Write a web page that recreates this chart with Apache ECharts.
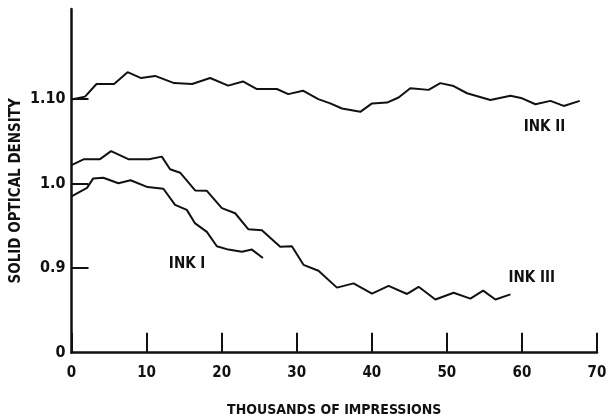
<!DOCTYPE html>
<html>
<head>
<meta charset="utf-8">
<script src="https://cdn.jsdelivr.net/npm/echarts@6/dist/echarts.min.js"></script>
<style>
  html, body { margin: 0; padding: 0; background: #fff; }
  #chart { width: 606px; height: 417px; }
</style>
</head>
<body>
<div id="chart"></div>
<script>
// Solid optical density vs. thousands of impressions, three inks.
// Each point: [thousands of impressions, solid optical density]
const inkI = [
  [0, 0.985], [2.07, 0.995], [2.87, 1.006], [4.24, 1.007], [6.24, 1.0005],
  [7.87, 1.004], [10.13, 0.996], [12.24, 0.994], [13.8, 0.975], [15.36, 0.969],
  [16.47, 0.953], [18.03, 0.943], [19.36, 0.926], [20.9, 0.922], [22.7, 0.9195],
  [24.03, 0.922], [25.5, 0.912]
];
const inkII = [
  [0, 1.0995], [1.8, 1.103], [3.33, 1.118], [5.67, 1.118], [7.47, 1.132],
  [9.27, 1.125], [11.13, 1.1275], [13.67, 1.119], [16.07, 1.118], [18.47, 1.125],
  [20.87, 1.116], [22.83, 1.121], [24.7, 1.112], [27.36, 1.112], [28.87, 1.106],
  [30.83, 1.110], [32.87, 1.100], [34.47, 1.095], [36.03, 1.089], [38.47, 1.085],
  [40.03, 1.095], [42.03, 1.096], [43.57, 1.102], [45.13, 1.113], [47.57, 1.111],
  [49.13, 1.119], [50.9, 1.1155], [52.69, 1.107], [55.8, 1.099], [58.47, 1.104],
  [60.03, 1.101], [61.8, 1.094], [63.8, 1.098], [65.57, 1.092], [67.7, 1.098]
];
const inkIII = [
  [0, 1.022], [1.67, 1.029], [3.8, 1.029], [5.27, 1.0385], [7.57, 1.029],
  [10.33, 1.029], [12.03, 1.032], [13.13, 1.017], [14.47, 1.013], [16.47, 0.992],
  [18.03, 0.9915], [20.03, 0.971], [21.8, 0.965], [23.57, 0.946], [25.36, 0.945],
  [27.8, 0.9255], [29.36, 0.926], [30.9, 0.904], [32.9, 0.897], [35.36, 0.877],
  [37.57, 0.882], [40.03, 0.870], [42.24, 0.879], [44.7, 0.8695], [46.24, 0.878],
  [48.47, 0.863], [50.9, 0.871], [53.13, 0.864], [54.83, 0.8735], [56.47, 0.863],
  [58.47, 0.869]
];

// Broken density axis: the bottom of the scale is labelled 0
const yLabelValues = [0.8, 0.9, 1.0, 1.1];
const yLabelTexts = ['0', '0.9', '1.0', '1.10'];
const yTickValues = [0.9, 1.0, 1.1];

// Ink names, placed in data space
const inkNames = ['INK I', 'INK II', 'INK III'];
const inkNameAt = [[15.4, 0.905], [63, 1.067], [61.3, 0.888]];

const FONT = '"DejaVu Sans Condensed", "Liberation Sans Narrow", "DejaVu Sans", sans-serif';
const INK = '#111';

function inkSeries(name, data, labelIdx) {
  return {
    name: name,
    type: 'line',
    data: data,
    showSymbol: false,
    symbol: 'none',
    smooth: false,
    silent: true,
    lineStyle: { color: INK, width: 2 },
    markPoint: {
      symbol: 'circle',
      symbolSize: 0,
      silent: true,
      data: [{
        coord: inkNameAt[labelIdx],
        label: {
          show: true,
          formatter: inkNames[labelIdx],
          position: 'inside',
          color: INK,
          fontFamily: FONT,
          fontWeight: 'bold',
          fontSize: 15
        }
      }]
    }
  };
}

const chart = echarts.init(document.getElementById('chart'), null, { renderer: 'canvas' });
chart.setOption({
  backgroundColor: '#fff',
  animation: false,
  grid: {
    left: 71.5, right: 9, top: 9, bottom: 64.3,
    containLabel: false,
    outerBoundsMode: 'none'
  },
  xAxis: {
    type: 'value',
    min: 0, max: 70, interval: 10,
    name: 'THOUSANDS OF IMPRESSIONS',
    nameLocation: 'middle',
    nameGap: 51,
    nameMoveOverlap: false,
    nameTextStyle: { color: INK, fontFamily: FONT, fontWeight: 'bold', fontSize: 14 },
    axisLine: { show: true, lineStyle: { color: INK, width: 2.5 } },
    axisTick: { show: true, inside: true, length: 20, lineStyle: { color: INK, width: 2 } },
    axisLabel: { color: INK, fontFamily: FONT, fontWeight: 'bold', fontSize: 15, margin: 13 },
    splitLine: { show: false }
  },
  yAxis: {
    type: 'value',
    min: 0.8, max: 1.2067,
    name: 'SOLID OPTICAL DENSITY',
    nameLocation: 'middle',
    nameRotate: 90,
    nameGap: 48,
    nameMoveOverlap: false,
    nameTextStyle: {
      color: INK, fontFamily: FONT, fontWeight: 'bold', fontSize: 15,
      padding: [0, 20, 0, 0]
    },
    axisLine: { show: true, lineStyle: { color: INK, width: 2.5 } },
    axisTick: {
      show: true, inside: true, length: 17,
      customValues: yTickValues,
      lineStyle: { color: INK, width: 2 }
    },
    axisLabel: {
      color: INK, fontFamily: FONT, fontWeight: 'bold', fontSize: 16, margin: 6,
      customValues: yLabelValues,
      formatter: function (v) {
        const i = yLabelValues.findIndex(function (t) { return Math.abs(t - v) < 1e-6; });
        return i >= 0 ? yLabelTexts[i] : '';
      }
    },
    splitLine: { show: false }
  },
  series: [
    inkSeries('INK I', inkI, 0),
    inkSeries('INK II', inkII, 1),
    inkSeries('INK III', inkIII, 2)
  ]
});
</script>
</body>
</html>
